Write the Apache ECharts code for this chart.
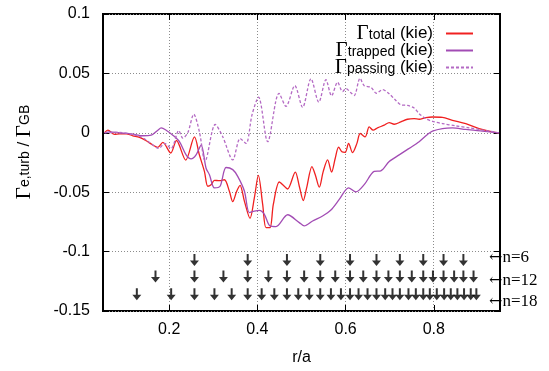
<!DOCTYPE html>
<html>
<head>
<meta charset="utf-8">
<script src="https://cdn.jsdelivr.net/npm/echarts@6/dist/echarts.min.js"></script>
<style>
  html, body { margin: 0; padding: 0; background: #fff; }
  #chart { width: 549px; height: 371px; }
</style>
</head>
<body>
<div id="chart"></div>
<script>
// r/a tick marks
const xTicks = [0.2, 0.4, 0.6, 0.8];
const yMin = -0.15;
const yMax = 0.1;

// Gamma_total (kie)
const totalR = [0.0535, 0.0611, 0.0762, 0.0875, 0.1026, 0.1177, 0.1328, 0.1479, 0.163, 0.1743, 0.1856,
  0.2035, 0.2165, 0.2375, 0.2573, 0.2686, 0.2799, 0.2875, 0.295, 0.3026, 0.3139, 0.3252, 0.3365, 0.3441,
  0.3531, 0.3607, 0.3705, 0.3833, 0.3931, 0.4022, 0.412, 0.4195, 0.4286, 0.4361, 0.4497, 0.461, 0.4686,
  0.4859, 0.495, 0.504, 0.5116, 0.5237, 0.5312, 0.5403, 0.5493, 0.5592, 0.5682, 0.5765, 0.5841, 0.5916,
  0.5992, 0.6067, 0.6158, 0.6256, 0.6331, 0.6444, 0.6535, 0.6625, 0.6724, 0.6875, 0.6988, 0.7101, 0.7252,
  0.7403, 0.7554, 0.7667, 0.7818, 0.7969, 0.8195, 0.8422, 0.8724, 0.9025, 0.9327, 0.9478];
const totalG = [0, 0.0022, -0.0014, -0.0009, -0.0009, -0.0025, -0.0039, -0.0067, -0.0103, -0.0122, -0.0081,
  -0.017, -0.0065, -0.023, -0.0035, -0.0187, -0.0325, -0.045, -0.0437, -0.040, -0.0403, -0.0395, -0.0492, -0.058,
  -0.0492, -0.0442, -0.0575, -0.072, -0.0548, -0.0359, -0.0603, -0.0798, -0.0798, -0.0603, -0.0414, -0.045, -0.0473,
  -0.0331, -0.045, -0.057, -0.0464, -0.0284, -0.0353, -0.0458, -0.0325, -0.0228, -0.0331, -0.0214, -0.012, -0.0159,
  -0.0164, -0.0089, -0.0167, -0.0089, -0.0006, -0.0034, 0.005, 0.0022, 0.0042, 0.0064, 0.0086, 0.0072, 0.0092,
  0.0114, 0.0119, 0.0114, 0.0128, 0.0133, 0.013, 0.0105, 0.0077, 0.0036, 0.0008, 0];

// Gamma_trapped (kie)
const trappedR = [0.0535, 0.0648, 0.0875, 0.1177, 0.1403, 0.1592, 0.1743, 0.1818, 0.1931, 0.2083, 0.2233,
  0.2384, 0.2497, 0.261, 0.2724, 0.2837, 0.2913, 0.3026, 0.3154, 0.329, 0.3441, 0.3554, 0.3705, 0.3818,
  0.3931, 0.4045, 0.4158, 0.4286, 0.4422, 0.4686, 0.495, 0.5063, 0.5252, 0.5478, 0.5667, 0.5856, 0.6067,
  0.6233, 0.6422, 0.6648, 0.6799, 0.6988, 0.7214, 0.744, 0.7667, 0.7856, 0.7969, 0.8195, 0.8422, 0.8724,
  0.9101, 0.9478];
const trappedG = [0, 0.0008, 0, -0.0011, -0.0025, -0.002, 0.0022, 0.0041, 0.0022, -0.002, -0.0075,
  -0.0186, -0.022, -0.0186, -0.0103, -0.0298, -0.0353, -0.0464, -0.045, -0.0292, -0.031, -0.0367, -0.049, -0.0672,
  -0.066, -0.0653, -0.0686, -0.0784, -0.0789, -0.069, -0.0756, -0.0784, -0.0742, -0.070, -0.065, -0.0561, -0.0464,
  -0.0497, -0.0436, -0.0325, -0.032, -0.0242, -0.0186, -0.0131, -0.0075, -0.0014, 0.0014, 0.0036, 0.0042, 0.0028,
  0.0014, 0];

// Gamma_passing (kie)
const passingR = [0.0535, 0.0875, 0.1177, 0.1403, 0.163, 0.1765, 0.1894, 0.2045, 0.2218, 0.2309, 0.2422,
  0.2558, 0.2686, 0.2815, 0.3045, 0.3215, 0.3441, 0.361, 0.3743, 0.3879, 0.4026, 0.4233, 0.449, 0.4649,
  0.4848, 0.5025, 0.5214, 0.5392, 0.5554, 0.5682, 0.5818, 0.5931, 0.6006, 0.612, 0.6195, 0.6327, 0.6422,
  0.6573, 0.6701, 0.6837, 0.6988, 0.7139, 0.7252, 0.7403, 0.7554, 0.7667, 0.7818, 0.7969, 0.8195, 0.8497,
  0.8799, 0.9176, 0.9478];
const passingG = [0, 0.0003, -0.0014, -0.0042, -0.0103, -0.0131, -0.0089, -0.0131, 0.0018, -0.0045, 0,
  0.0156, 0.0008, -0.0238, 0.007, -0.0033, -0.0228, -0.0048, -0.0089, 0.0153, 0.030, -0.0075, 0.0332, 0.0223,
  0.0397, 0.0214, 0.0455, 0.0258, 0.0447, 0.0311, 0.0425, 0.0347, 0.0372, 0.0337, 0.0314, 0.0459, 0.0397,
  0.0383, 0.0333, 0.0364, 0.0328, 0.0272, 0.0236, 0.023, 0.0208, 0.0161, 0.0119, 0.0097, 0.0078, 0.0058,
  0.0042, 0.0019, 0];

// rational-surface arrows for each toroidal mode number
const arrowsN6 = [0.2573, 0.378, 0.467, 0.5425, 0.61, 0.67, 0.723, 0.776, 0.822, 0.867];
const arrowsN12 = [0.169, 0.2573, 0.323, 0.378, 0.425, 0.467, 0.506, 0.5425, 0.5765, 0.61, 0.64, 0.67,
  0.697, 0.723, 0.75, 0.776, 0.798, 0.822, 0.846, 0.867, 0.89];
const arrowsN18 = [0.1267, 0.2045, 0.2573, 0.3026, 0.3417, 0.378, 0.4097, 0.4384, 0.467, 0.4927, 0.5176,
  0.5425, 0.5667, 0.5894, 0.61, 0.6293, 0.6497, 0.67, 0.6897, 0.7063, 0.723, 0.7425, 0.7592, 0.776, 0.7909,
  0.8067, 0.8233, 0.8384, 0.8534, 0.8685, 0.8837, 0.8964];
const arrowRows = [-0.107, -0.121, -0.136];
const modeLabels = ["n=6", "n=12", "n=18"];

const zip = (xs, ys) => xs.map((x, i) => [x, ys[i]]);

const arrowSymbol = "path://M3.5,0 H5.5 V6.5 H9 L4.5,12 L0,6.5 H3.5 Z";
const serif = "Liberation Serif, DejaVu Serif, serif";
const sans = "Liberation Sans, Arial, sans-serif";
const grey = "#8c8c8c";

const chart = echarts.init(document.getElementById("chart"));

const gammaRich = {
  g: { fontFamily: serif, fontSize: 21, color: "#000", lineHeight: 17 },
  s: { fontFamily: sans, fontSize: 14, color: "#000", lineHeight: 11, verticalAlign: "bottom" },
  k: { fontFamily: sans, fontSize: 17, color: "#000", lineHeight: 17 },
  p: { fontFamily: sans, fontSize: 17, color: "#000", lineHeight: 17, padding: [0, 8, 0, 0] },
};

const lineSeries = (name, data, color, type) => ({
  name,
  type: "line",
  data,
  symbol: "none",
  smooth: 0.3,
  lineStyle: { color, width: 1.3, type },
  itemStyle: { color },
  z: 3,
});

const arrowSeries = (xs, y) => ({
  type: "scatter",
  data: xs.map((x) => [x, y]),
  symbol: arrowSymbol,
  symbolSize: [9, 12],
  itemStyle: { color: "#000" },
  silent: true,
  z: 4,
});

chart.setOption({
  animation: false,
  grid: {
    left: 103, right: 49, top: 14, bottom: 57,
    show: true, borderColor: "#000", borderWidth: 2, backgroundColor: "transparent",
  },
  legend: {
    orient: "vertical",
    right: 70,
    top: 18,
    align: "right",
    itemWidth: 27,
    itemHeight: 10,
    itemGap: -4,
    data: ["total", "trapped", "passing"],
    itemStyle: { opacity: 0 },
    formatter: (n) => "{g|\u0393}{s|" + n + "}{p| (kie)}",
    textStyle: { rich: gammaRich },
  },
  xAxis: [
    {
      type: "value", min: 0.05, max: 0.95, position: "bottom",
      axisLine: { show: false, onZero: false },
      axisTick: { inside: true, length: 6, customValues: xTicks, lineStyle: { color: "#000", width: 1 } },
      axisLabel: { customValues: xTicks, color: "#000", fontFamily: sans, fontSize: 16, margin: 11 },
      splitLine: { show: false },
      name: "r/a", nameLocation: "middle", nameGap: 39,
      nameTextStyle: { color: "#000", fontFamily: sans, fontSize: 16 },
    },
    {
      type: "value", min: 0.05, max: 0.95, position: "top",
      axisLine: { show: false, onZero: false },
      axisTick: { inside: true, length: 6, customValues: xTicks, lineStyle: { color: "#000", width: 1 } },
      axisLabel: { show: false },
      splitLine: { show: false },
    },
  ],
  yAxis: [
    {
      type: "value", min: yMin, max: yMax, interval: 0.05, position: "left",
      axisLine: { show: false, onZero: false },
      axisTick: { inside: true, length: 6, lineStyle: { color: "#000", width: 1 } },
      axisLabel: {
        color: "#000", fontFamily: sans, fontSize: 16, margin: 13,
        formatter: (v) => String(+v.toFixed(2)),
      },
      splitLine: { show: true, lineStyle: { color: grey, type: [1, 2], width: 1 } },
    },
    {
      type: "value", min: yMin, max: yMax, interval: 0.05, position: "right",
      axisLine: { show: false, onZero: false },
      axisTick: { inside: true, length: 6, lineStyle: { color: "#000", width: 1 } },
      axisLabel: { show: false },
      splitLine: { show: false },
    },
  ],
  series: [
    lineSeries("total", zip(totalR, totalG), "#f02020", "solid"),
    lineSeries("trapped", zip(trappedR, trappedG), "#a24cb4", "solid"),
    lineSeries("passing", zip(passingR, passingG), "#b46ac4", [3, 2]),
    arrowSeries(arrowsN6, arrowRows[0]),
    arrowSeries(arrowsN12, arrowRows[1]),
    arrowSeries(arrowsN18, arrowRows[2]),
  ],
});

// all graphics are added in one pass, after the axes exist
const yTop = Math.round(chart.convertToPixel({ yAxisIndex: 0 }, yMax)) + 2;
const yBottom = Math.round(chart.convertToPixel({ yAxisIndex: 0 }, yMin)) - 2;

// dotted vertical grid at each r/a tick: one-pixel dots every 3 px
const gridDots = [];
xTicks.forEach((x) => {
  const px = Math.floor(chart.convertToPixel({ xAxisIndex: 0 }, x));
  for (let y = yTop; y < yBottom; y += 3) {
    gridDots.push({
      type: "rect", silent: true,
      shape: { x: px, y, width: 1, height: 1 },
      style: { fill: grey },
    });
  }
});

const yTitle = {
  type: "text",
  x: 24, y: 152,
  rotation: Math.PI / 2,
  style: {
    text: "{g|\u0393}{s|e,turb}{k| / }{g|\u0393}{s|GB}",
    align: "center", verticalAlign: "middle",
    rich: gammaRich,
  },
};

const modeTexts = modeLabels.map((t, i) => ({
  type: "text",
  x: 489, y: [258, 281, 302][i],
  style: {
    text: "{a|\u2190}{n|" + t + "}",
    align: "left", verticalAlign: "middle",
    rich: {
      a: { fontFamily: "DejaVu Serif", fontSize: 16, fill: "#000" },
      n: { fontFamily: serif, fontSize: 17, fill: "#000" },
    },
  },
}));

chart.setOption({ graphic: gridDots.concat([yTitle], modeTexts) });
</script>
</body>
</html>
